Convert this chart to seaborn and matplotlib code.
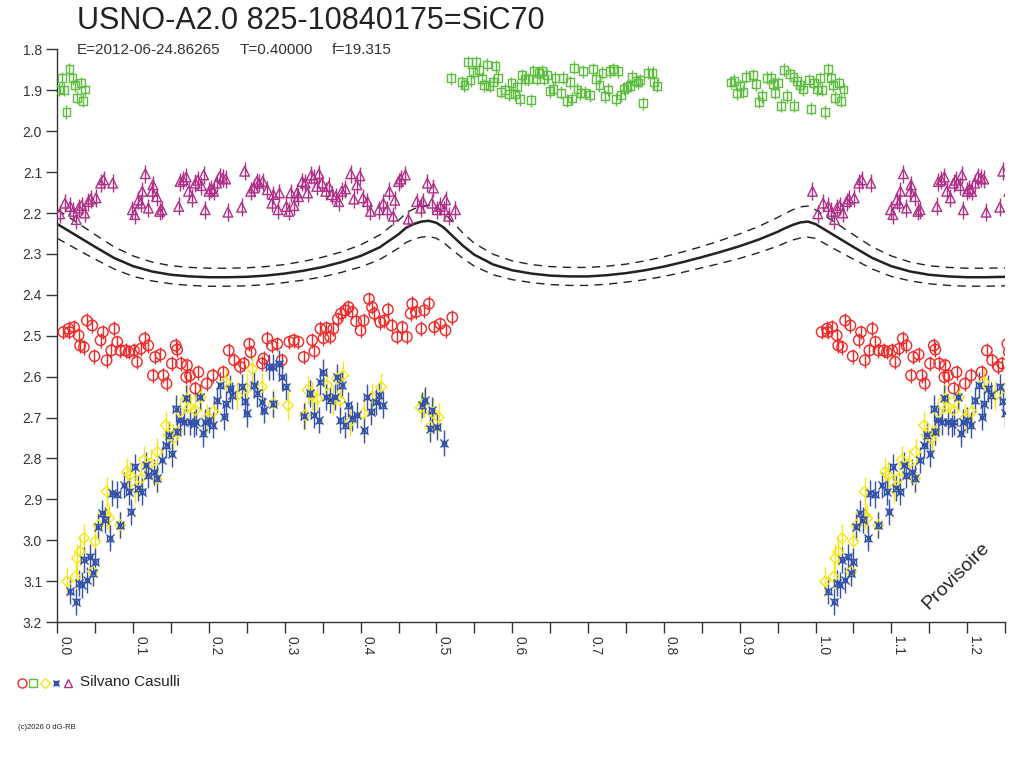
import numpy as np
import pandas as pd
import matplotlib
matplotlib.use("Agg")
import matplotlib.pyplot as plt
from matplotlib.lines import Line2D
import seaborn as sns

sns.set_style("ticks")
plt.rcParams['font.family'] = ['Liberation Sans', 'DejaVu Sans']

# ---- data (phase, magnitude) ----
red_phase = [0.008,0.015,0.016,0.022,0.028,0.030,0.035,0.039,0.046,0.049,0.057,0.060,0.065,0.071,0.075,
             0.079,0.083,0.090,0.094,0.101,0.105,0.110,0.115,0.120,0.126,0.129,0.136,0.140,0.144,0.151,
             0.156,0.158,0.163,0.170,0.171,0.175,0.182,0.186,0.197,0.205,0.219,0.226,0.233,0.241,0.246,
             0.253,0.255,0.270,0.272,0.277,0.283,0.290,0.296,0.306,0.312,0.318,0.325,0.336,0.339,0.347,
             0.351,0.355,0.360,0.364,0.370,0.374,0.380,0.384,0.389,0.394,0.400,0.404,0.411,0.415,0.418,
             0.426,0.431,0.436,0.441,0.448,0.455,0.461,0.466,0.468,0.473,0.480,0.484,0.490,0.497,0.505,
             0.512,0.521]
red_mag = [2.491,2.483,2.491,2.479,2.499,2.524,2.528,2.463,2.475,2.550,2.511,2.491,2.560,2.536,2.483,
           2.515,2.536,2.536,2.540,2.536,2.564,2.532,2.507,2.524,2.597,2.552,2.546,2.597,2.617,2.568,
           2.524,2.534,2.568,2.601,2.572,2.597,2.629,2.589,2.617,2.597,2.589,2.536,2.560,2.576,2.568,
           2.520,2.540,2.568,2.556,2.507,2.524,2.520,2.560,2.515,2.511,2.515,2.552,2.511,2.538,2.483,
           2.506,2.481,2.503,2.483,2.459,2.446,2.438,2.430,2.442,2.465,2.487,2.463,2.410,2.430,2.446,
           2.467,2.463,2.436,2.475,2.503,2.479,2.503,2.446,2.422,2.442,2.483,2.438,2.422,2.479,2.471,
           2.487,2.455]

green_phase = [0.519,0.534,0.537,0.542,0.545,0.548,0.552,0.556,0.560,0.563,0.567,0.570,0.575,0.578,0.581,
               0.585,0.591,0.596,0.599,0.604,0.606,0.610,0.613,0.617,0.621,0.625,0.628,0.632,0.635,0.639,
               0.642,0.646,0.650,0.654,0.657,0.664,0.667,0.672,0.676,0.679,0.682,0.686,0.690,0.693,0.696,
               0.703,0.707,0.711,0.715,0.719,0.722,0.726,0.729,0.733,0.737,0.740,0.744,0.747,0.751,0.755,
               0.758,0.763,0.766,0.769,0.773,0.779,0.785,0.787,0.791,
               0.889,0.893,0.896,0.900,0.905,0.908,0.918,0.922,0.925,0.929,0.936,0.941,0.944,0.947,0.951,
               0.955,0.958,0.962,0.966,0.971,0.972,0.976,0.980,0.984,0.991,0.994,0.998,
               0.002,0.006,0.009,0.012,0.016,0.020,0.023,0.026,0.031,0.034,0.037]
green_mag = [1.871,1.880,1.888,1.831,1.875,1.855,1.831,1.850,1.872,1.888,1.837,1.889,1.880,1.841,1.869,
             1.904,1.899,1.910,1.883,1.910,1.891,1.922,1.863,1.872,1.873,1.924,1.853,1.872,1.857,1.853,
             1.872,1.863,1.902,1.896,1.869,1.906,1.869,1.926,1.880,1.920,1.845,1.898,1.907,1.853,1.906,
             1.912,1.849,1.872,1.888,1.857,1.915,1.898,1.853,1.849,1.922,1.853,1.912,1.896,1.891,1.889,
             1.867,1.877,1.881,1.875,1.932,1.857,1.857,1.880,1.889,
             1.881,1.877,1.907,1.889,1.904,1.867,1.863,1.885,1.928,1.914,1.869,1.869,1.884,1.906,1.883,
             1.938,1.850,1.914,1.861,1.867,1.938,1.877,1.888,1.898,1.875,1.945,1.883,
             1.898,1.871,1.899,1.953,1.849,1.871,1.888,1.918,1.883,1.926,1.898]

yellow_phase = [0.013,0.024,0.026,0.030,0.035,0.047,0.050,0.054,0.065,0.065,0.068,0.083,0.092,0.096,0.103,
                0.110,0.114,0.123,0.131,0.132,0.143,0.147,0.153,0.158,0.162,0.171,0.175,0.182,0.189,0.197,
                0.206,0.222,0.237,0.250,0.257,0.270,0.285,0.304,0.327,0.330,0.336,0.343,0.356,0.364,0.369,
                0.373,0.377,0.386,0.404,0.415,0.427,0.479,0.483,0.492,0.495,0.503]
yellow_mag = [3.101,3.089,3.044,3.028,2.995,3.076,3.003,2.963,2.938,2.881,2.946,2.963,2.833,2.841,2.873,
              2.849,2.804,2.812,2.849,2.784,2.719,2.743,2.751,2.735,2.686,2.654,2.674,2.682,2.650,2.702,
              2.686,2.613,2.646,2.629,2.581,2.625,2.666,2.670,2.694,2.633,2.646,2.654,2.621,2.658,2.605,
              2.658,2.597,2.711,2.690,2.650,2.625,2.676,2.666,2.723,2.688,2.700]

blue_phase = [0.017,0.025,0.028,0.032,0.035,0.039,0.043,0.047,0.050,0.054,0.059,0.063,0.069,0.072,0.079,
              0.083,0.088,0.094,0.097,0.102,0.106,0.112,0.117,0.120,0.127,0.131,0.138,0.143,0.147,0.151,
              0.156,0.158,0.162,0.167,0.170,0.175,0.180,0.183,0.188,0.192,0.195,0.200,0.205,0.210,0.215,
              0.220,0.222,0.228,0.231,0.243,0.247,0.250,0.259,0.263,0.270,0.272,0.279,0.285,0.285,0.292,
              0.296,0.301,0.325,0.333,0.338,0.345,0.347,0.351,0.355,0.360,0.366,0.369,0.373,0.375,0.380,
              0.384,0.389,0.395,0.405,0.408,0.414,0.420,0.424,0.429,0.481,0.485,0.492,0.494,0.501,0.510]
blue_mag = [3.125,3.150,3.105,3.109,3.048,3.097,3.040,3.081,3.052,2.967,2.934,2.950,2.995,2.885,2.888,
            2.963,2.865,2.881,2.930,2.820,2.873,2.881,2.816,2.841,2.833,2.849,2.804,2.768,2.743,2.788,
            2.678,2.735,2.706,2.711,2.652,2.711,2.715,2.711,2.650,2.739,2.711,2.706,2.719,2.658,2.621,
            2.698,2.666,2.629,2.646,2.625,2.660,2.690,2.621,2.641,2.662,2.682,2.576,2.576,2.666,2.568,
            2.601,2.625,2.696,2.641,2.694,2.707,2.613,2.589,2.650,2.658,2.650,2.601,2.707,2.621,2.719,
            2.670,2.702,2.694,2.731,2.650,2.686,2.662,2.646,2.670,2.670,2.658,2.727,2.682,2.723,2.763]

purple_phase = [0.003,0.010,0.017,0.021,0.025,0.028,0.032,0.036,0.041,0.044,0.051,0.057,0.061,0.073,0.099,
                0.102,0.107,0.110,0.112,0.116,0.120,0.125,0.126,0.131,0.135,0.138,0.160,0.162,0.166,0.170,
                0.173,0.178,0.182,0.185,0.190,0.193,0.195,0.200,0.203,0.206,0.210,0.214,0.218,0.222,0.225,
                0.243,0.247,0.255,0.259,0.263,0.266,0.271,0.277,0.283,0.285,0.291,0.293,0.302,0.305,0.308,
                0.312,0.316,0.318,0.323,0.327,0.330,0.335,0.338,0.342,0.345,0.349,0.354,0.358,0.362,0.367,
                0.371,0.375,0.380,0.387,0.391,0.395,0.399,0.403,0.409,0.413,0.424,0.430,0.435,0.438,0.443,
                0.445,0.450,0.453,0.459,0.463,0.474,0.479,0.482,0.488,0.494,0.496,0.501,0.505,0.510,0.512,
                0.516,0.525,0.996]
purple_mag = [2.202,2.176,2.184,2.196,2.216,2.188,2.182,2.200,2.172,2.166,2.163,2.127,2.119,2.127,2.192,
              2.204,2.168,2.176,2.147,2.104,2.188,2.147,2.131,2.160,2.196,2.192,2.184,2.123,2.119,2.112,
              2.147,2.163,2.127,2.120,2.133,2.107,2.192,2.147,2.141,2.147,2.127,2.111,2.115,2.117,2.198,
              2.186,2.098,2.147,2.139,2.123,2.127,2.123,2.143,2.176,2.155,2.192,2.151,2.184,2.196,2.151,
              2.182,2.151,2.160,2.123,2.127,2.151,2.107,2.115,2.135,2.104,2.127,2.147,2.135,2.155,2.160,
              2.172,2.147,2.141,2.104,2.166,2.131,2.109,2.163,2.172,2.196,2.192,2.176,2.192,2.147,2.208,
              2.169,2.123,2.117,2.107,2.215,2.172,2.188,2.172,2.127,2.176,2.139,2.192,2.184,2.192,2.168,
              2.208,2.192,2.147]

# fitted model and its envelope half-width
model_phase = [0.000,0.025,0.050,0.075,0.100,0.125,0.150,0.175,0.200,0.225,0.250,0.275,0.300,0.325,0.350,
               0.375,0.400,0.425,0.450,0.460,0.470,0.480,0.490,0.500,0.510,0.520,0.535,0.550,0.575,0.600,
               0.625,0.650,0.675,0.700,0.725,0.750,0.775,0.800,0.825,0.850,0.875,0.900,0.925,0.950,0.960,
               0.970,0.980,0.990,1.000]
model_mag = [2.227,2.255,2.283,2.310,2.330,2.343,2.351,2.355,2.357,2.357,2.356,2.353,2.348,2.341,2.332,
             2.320,2.305,2.284,2.252,2.236,2.227,2.221,2.219,2.224,2.236,2.254,2.280,2.302,2.326,2.340,
             2.348,2.353,2.355,2.355,2.352,2.347,2.340,2.331,2.320,2.308,2.295,2.281,2.265,2.246,2.237,
             2.229,2.223,2.221,2.227]
model_width = [0.035,0.033,0.030,0.027,0.025,0.023,0.022,0.022,0.022,0.022,0.022,0.022,0.022,0.023,0.024,
               0.025,0.027,0.030,0.034,0.036,0.037,0.038,0.038,0.038,0.037,0.035,0.031,0.028,0.025,0.023,
               0.022,0.022,0.022,0.022,0.022,0.022,0.023,0.024,0.025,0.026,0.028,0.030,0.032,0.035,0.036,
               0.037,0.038,0.038,0.035]

err = {'red': 0.018, 'green': 0.016, 'yellow': 0.035, 'blue': 0.032, 'purple': 0.022}
colors = {'red': '#f02828', 'green': '#5cbd3e', 'yellow': '#f5e614',
          'blue': '#3552aa', 'purple': '#b02e86'}


def folded(phase, mag):
    # each phase is drawn once at phase and once a cycle later
    df = pd.DataFrame({'phase': phase, 'mag': mag})
    df2 = df.copy()
    df2['phase'] = df2['phase'] + 1
    df = pd.concat([df, df2], ignore_index=True)
    return df[df['phase'] <= 1.26]


fig = plt.figure(figsize=(10.24, 7.68), dpi=100)
ax = fig.add_axes([0.056, 0.190, 0.9255, 0.7457])

# model curve (periodic)
mdf = pd.DataFrame({'phase': model_phase, 'mag': model_mag, 'w': model_width})
mdf2 = mdf.iloc[1:].copy()
mdf2['phase'] = mdf2['phase'] + 1
mdf = pd.concat([mdf, mdf2], ignore_index=True)
mdf = mdf[mdf['phase'] <= 1.3]
mdf['upper'] = mdf['mag'] - mdf['w']
mdf['lower'] = mdf['mag'] + mdf['w']
sns.lineplot(data=mdf, x='phase', y='mag', ax=ax, color='#222222', lw=1.8, sort=False, estimator=None)
sns.lineplot(data=mdf, x='phase', y='upper', ax=ax, color='#222222', lw=1.0,
             linestyle=(0, (6, 4.5)), sort=False, estimator=None)
sns.lineplot(data=mdf, x='phase', y='lower', ax=ax, color='#222222', lw=1.0,
             linestyle=(0, (6, 4.5)), sort=False, estimator=None)

series = [
    ('red', red_phase, red_mag, 'o', 56),
    ('green', green_phase, green_mag, 's', 32),
    ('yellow', yellow_phase, yellow_mag, 'D', 30),
    ('blue', blue_phase, blue_mag, 's', 12),
    ('purple', purple_phase, purple_mag, '^', 48),
]
for name, ph, mg, mk, sz in series:
    d = folded(ph, mg)
    c = colors[name]
    ax.vlines(d['phase'], d['mag'] - err[name], d['mag'] + err[name], color=c, lw=1.0, zorder=3)
    sns.scatterplot(data=d, x='phase', y='mag', ax=ax, marker=mk, s=sz, facecolor='none',
                    edgecolor=c, linewidth=1.0, zorder=4)
    if name == 'blue':
        sns.scatterplot(data=d, x='phase', y='mag', ax=ax, marker='x', s=34, color=c,
                        linewidth=1.0, zorder=4)

ax.set_xlim(0, 1.25)
ax.set_ylim(3.2, 1.8)
ax.set_xlabel('')
ax.set_ylabel('')
sns.despine(ax=ax)
for sp in ['left', 'bottom']:
    ax.spines[sp].set_color('#333333')
    ax.spines[sp].set_linewidth(1.0)

xt = np.round(np.arange(0, 1.21, 0.1), 2)
ax.set_xticks(xt)
ax.set_xticklabels(['%.1f' % v for v in xt])
ax.set_xticks(np.round(np.arange(0.05, 1.26, 0.1), 2), minor=True)
yt = np.round(np.arange(1.8, 3.21, 0.1), 2)
ax.set_yticks(yt)
ax.set_yticklabels(['%.1f' % v for v in yt])
ax.tick_params(axis='x', which='both', direction='out', length=8, width=1, color='#333333',
               labelsize=10, labelcolor='#333333', pad=2)
ax.tick_params(axis='y', direction='out', length=8, width=1, color='#333333',
               labelsize=10, labelcolor='#333333', pad=3)
plt.setp(ax.get_xticklabels(), rotation=-90, ha='left', va='top')

# titles
fig.text(77 / 1024, 1 - 29 / 768, 'USNO-A2.0 825-10840175=SiC70', fontsize=22, color='#222222')
fig.text(77 / 1024, 1 - 53.5 / 768, 'E=2012-06-24.86265', fontsize=11, color='#333333')
fig.text(240 / 1024, 1 - 53.5 / 768, 'T=0.40000', fontsize=11, color='#333333')
fig.text(332 / 1024, 1 - 53.5 / 768, 'f=19.315', fontsize=11, color='#333333')

ax.text(956 / 1024, 1 - 576 / 768, 'Provisoire', transform=fig.transFigure, rotation=45,
        ha='center', va='center', fontsize=14, color='#222222')

# observer legend
leg_y = 1 - 682.5 / 768
for xpx, name, mk, ms in [(22, 'red', 'o', 6.5), (33, 'green', 's', 5.3), (45, 'yellow', 'D', 5),
                          (56, 'blue', 's', 3.2), (68, 'purple', '^', 6)]:
    fig.add_artist(Line2D([xpx / 1024], [leg_y], transform=fig.transFigure, marker=mk, ms=ms,
                          mfc='none', mec=colors[name], mew=1.0, ls='none'))
fig.add_artist(Line2D([56 / 1024], [leg_y], transform=fig.transFigure, marker='x', ms=5,
                      mec=colors['blue'], mew=1.0, ls='none'))
fig.text(80 / 1024, leg_y, 'Silvano Casulli', fontsize=11, color='#222222', va='center')
fig.text(18 / 1024, 1 - 729 / 768, '(c)2026 0 dG-RB', fontsize=5.5, color='#222222')

fig.savefig('out.png', dpi=100, facecolor='white')
